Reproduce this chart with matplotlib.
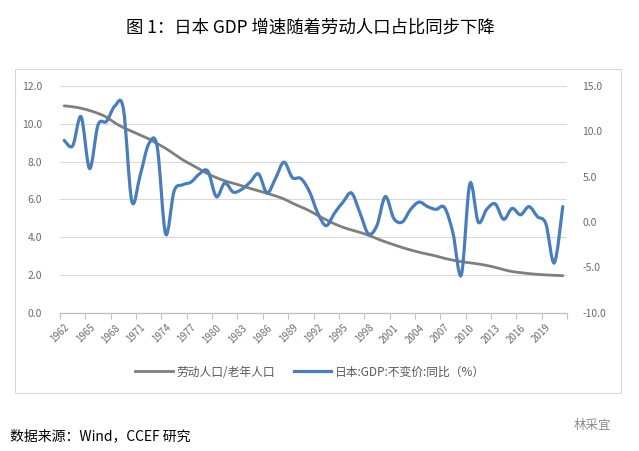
import matplotlib.pyplot as plt
import numpy as np
from matplotlib.path import Path
from matplotlib.patches import PathPatch, Rectangle
from matplotlib.lines import Line2D

plt.rcParams['font.family'] = ['Noto Sans CJK SC', 'DejaVu Sans']

# data, 1962-2021
years = list(range(1962, 2022))
labor_ratio = [10.95, 10.9, 10.82, 10.7, 10.55, 10.35, 10.05, 9.8, 9.6, 9.4,
               9.2, 8.95, 8.7, 8.4, 8.1, 7.85, 7.6, 7.35, 7.15, 6.98,
               6.85, 6.72, 6.58, 6.45, 6.32, 6.18, 6.02, 5.8, 5.6, 5.4,
               5.15, 4.92, 4.7, 4.52, 4.38, 4.25, 4.1, 3.92, 3.75, 3.6,
               3.45, 3.32, 3.2, 3.1, 3.0, 2.88, 2.78, 2.7, 2.64, 2.58,
               2.5, 2.4, 2.28, 2.18, 2.12, 2.07, 2.03, 2.0, 1.98, 1.96]
gdp_yoy = [9.0, 8.4, 11.6, 5.9, 10.7, 11.1, 12.8, 12.5, 2.3, 5.2,
           8.6, 8.3, -1.3, 3.4, 4.1, 4.4, 5.3, 5.6, 2.8, 4.3,
           3.3, 3.6, 4.4, 5.3, 3.2, 4.8, 6.6, 4.9, 4.8, 3.4,
           1.0, -0.4, 1.0, 2.2, 3.2, 1.0, -1.3, -0.4, 2.8, 0.4,
           0.0, 1.4, 2.2, 1.7, 1.4, 1.6, -1.2, -5.8, 4.2, 0.0,
           1.4, 2.0, 0.3, 1.5, 0.8, 1.7, 0.6, -0.2, -4.5, 1.7]

labor_name = '劳动人口/老年人口'
gdp_name = '日本:GDP:不变价:同比（%）'
gray = '#7f7f7f'
blue = '#4a7ebb'


def smooth_path(x, y):
    # Excel-style smoothed line: cubic Bezier through every point
    pts = np.column_stack([x, y]).astype(float)
    ext = np.vstack([pts[0], pts, pts[-1]])
    verts = [pts[0]]
    codes = [Path.MOVETO]
    for i in range(len(pts) - 1):
        p0, p1, p2, p3 = ext[i], ext[i + 1], ext[i + 2], ext[i + 3]
        verts += [p1 + (p2 - p0) / 6, p2 - (p3 - p1) / 6, p2]
        codes += [Path.CURVE4] * 3
    return Path(verts, codes)


W, H = 639, 451
fig = plt.figure(figsize=(W / 100, H / 100), dpi=100)
ax = fig.add_axes([60 / W, 1 - 312.7 / H, 507 / W, 226.7 / H])
ax2 = ax.twinx()

x = np.arange(len(years))

ax.add_patch(PathPatch(smooth_path(x, labor_ratio), fill=False,
                       ec=gray, lw=2.0, capstyle='round'))
ax2.add_patch(PathPatch(smooth_path(x, gdp_yoy), fill=False,
                        ec=blue, lw=2.3, capstyle='round'))

ax.set_xlim(-0.5, len(years) - 0.5)
ax.set_ylim(0, 12)
ax2.set_ylim(-10, 15)
ax.set_yticks(np.arange(0, 12.1, 2))
ax2.set_yticks(np.arange(-10, 15.1, 5))
ax.set_yticklabels([f'{v:.1f}' for v in np.arange(0, 12.1, 2)])
ax2.set_yticklabels([f'{v:.1f}' for v in np.arange(-10, 15.1, 5)])

ax.set_xticks(x[::3])
ax.set_xticklabels([str(y) for y in years[::3]], rotation=45,
                   ha='right', rotation_mode='anchor')
ax.set_xticks(np.arange(-0.5, len(years), 3), minor=True)
ax.tick_params(axis='x', which='major', length=0, pad=7,
               labelsize=7, labelcolor='#6b6b6b')
ax.tick_params(axis='x', which='minor', length=4, color='#bfbfbf', width=0.8)
ax.tick_params(axis='y', length=0, labelsize=7.5, labelcolor='#6b6b6b', pad=13)
ax2.tick_params(axis='y', length=0, labelsize=7.5, labelcolor='#6b6b6b', pad=11)

ax.grid(axis='y', color='#d9d9d9', lw=0.8)
ax.set_axisbelow(True)
for a in (ax, ax2):
    for s in ('top', 'left', 'right'):
        a.spines[s].set_visible(False)
    a.spines['bottom'].set_color('#bfbfbf')
    a.spines['bottom'].set_linewidth(0.8)

# chart frame
fig.patches.append(Rectangle((15 / W, 1 - 393 / H), 606 / W, 324 / H,
                             transform=fig.transFigure, fill=False,
                             ec='#d9d9d9', lw=0.8))

handles = [Line2D([], [], color=gray, lw=2.0), Line2D([], [], color=blue, lw=2.3)]
fig.legend(handles, [labor_name, gdp_name], loc='center', ncol=2,
           bbox_to_anchor=(310 / W, 1 - 372 / H), frameon=False,
           fontsize=8.5, handlelength=3.2, handletextpad=0.3,
           columnspacing=1.6, labelcolor='#595959')

fig.text(310 / W, 1 - 28 / H, '图 1：日本 GDP 增速随着劳动人口占比同步下降',
         ha='center', va='center', fontsize=12.5)
fig.text(10 / W, 1 - 436 / H, '数据来源：Wind，CCEF 研究',
         ha='left', va='center', fontsize=10)
fig.text(592 / W, 1 - 425 / H, '林采宜', ha='center', va='center',
         fontsize=9, color='#8c8c8c')

fig.savefig('out.png', dpi=100)
